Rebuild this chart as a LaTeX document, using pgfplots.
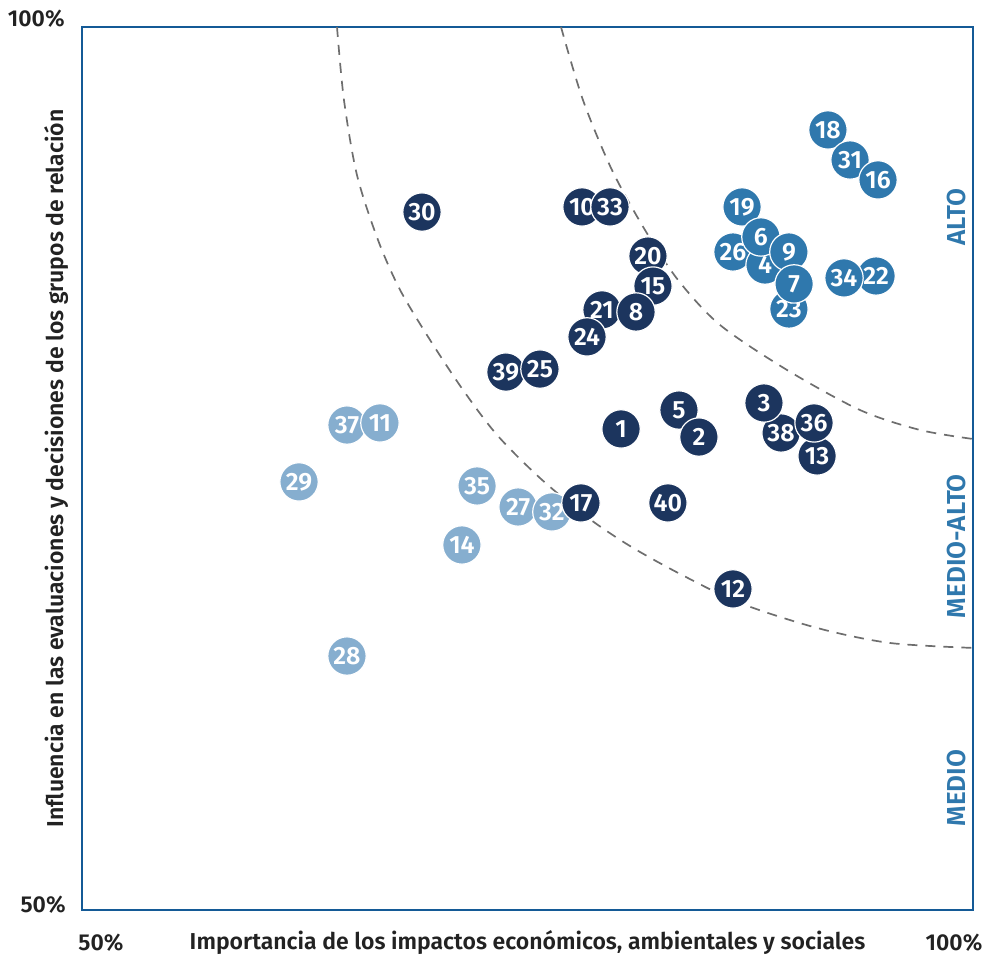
\documentclass[border=0pt]{standalone}
\usepackage{pgfplots}
\pgfplotsset{compat=1.18}
\usepackage{fontspec}
\setmainfont{Fira Sans}[BoldFont={Fira Sans SemiBold}]
\definecolor{cD}{RGB}{28,53,94}
\definecolor{cM}{RGB}{47,120,173}
\definecolor{cL}{RGB}{134,174,207}
\definecolor{frameblue}{RGB}{20,90,150}
\definecolor{txt}{RGB}{34,34,34}
\definecolor{arcgray}{RGB}{110,110,110}

\pgfplotsset{
  bub/.style={only marks, mark=*, mark size=9.6pt,
    mark options={fill=#1, draw=white, line width=0.6pt},
    point meta=explicit symbolic, nodes near coords,
    every node near coord/.append style={anchor=center, text=white, inner sep=0pt,
      font=\bfseries\fontsize{12.5}{12.5}\selectfont},
  },
  bL/.style={bub=cL}, bM/.style={bub=cM}, bD/.style={bub=cD},
}

\begin{document}
\begin{tikzpicture}
\begin{axis}[
  scale only axis,
  width=445.5pt, height=441.5pt,
  xmin=50, xmax=100, ymin=50, ymax=100,
  xtick=\empty, ytick=\empty,
  axis line style={draw=frameblue, line width=1pt},
  clip=false,
]
% dashed boundaries
\addplot[arcgray, line width=0.85pt, dash pattern=on 5pt off 4pt, smooth] coordinates {
(76.88,100) (78.11,95.87) (79.74,91.90) (81.59,88.51) (83.45,85.67) (85.80,83.13) (89.56,80.58) (93.66,78.31) (97.03,77.18) (100,76.67)
};
\addplot[arcgray, line width=0.85pt, dash pattern=on 5pt off 4pt, smooth] coordinates {
(64.31,100) (64.70,95.87) (65.43,91.62) (66.61,87.94) (67.85,85.11) (69.53,82.28) (71.38,79.45) (73.29,76.90) (75.70,74.46) (78.34,72.25) (80.75,70.61) (83.56,69.03) (86.93,67.38) (91.25,65.97) (95.34,65.12) (100,64.84)
};
% light bubbles
\addplot[bL] coordinates {(64.87,77.46)[37]};
\addplot[bL] coordinates {(66.72,77.58)[11]};
\addplot[bL] coordinates {(62.18,74.24)[29]};
\addplot[bL] coordinates {(72.17,74.01)[35]};
\addplot[bL] coordinates {(74.47,72.82)[27]};
\addplot[bL] coordinates {(76.37,72.54)[32]};
\addplot[bL] coordinates {(71.32,70.67)[14]};
\addplot[bL] coordinates {(64.87,64.38)[28]};
% mid bubbles
\addplot[bM] coordinates {(91.86,94.17)[18]};
\addplot[bM] coordinates {(93.10,92.47)[31]};
\addplot[bM] coordinates {(94.67,91.34)[16]};
\addplot[bM] coordinates {(87.04,89.81)[19]};
\addplot[bM] coordinates {(86.53,87.26)[26]};
\addplot[bM] coordinates {(88.33,86.52)[4]};
\addplot[bM] coordinates {(88.10,88.11)[6]};
\addplot[bM] coordinates {(89.67,87.26)[9]};
\addplot[bM] coordinates {(89.67,84.03)[23]};
\addplot[bM] coordinates {(89.96,85.45)[7]};
\addplot[bM] coordinates {(94.56,85.90)[22]};
\addplot[bM] coordinates {(92.76,85.79)[34]};
% dark bubbles
\addplot[bD] coordinates {(69.08,89.52)[30]};
\addplot[bD] coordinates {(78.06,89.81)[10]};
\addplot[bD] coordinates {(79.63,89.81)[33]};
\addplot[bD] coordinates {(81.76,87.03)[20]};
\addplot[bD] coordinates {(82.04,85.33)[15]};
\addplot[bD] coordinates {(79.18,83.98)[21]};
\addplot[bD] coordinates {(78.34,82.45)[24]};
\addplot[bD] coordinates {(81.09,83.86)[8]};
\addplot[bD] coordinates {(73.79,80.46)[39]};
\addplot[bD] coordinates {(75.70,80.63)[25]};
\addplot[bD] coordinates {(80.25,77.24)[1]};
\addplot[bD] coordinates {(83.50,78.31)[5]};
\addplot[bD] coordinates {(84.62,76.78)[2]};
\addplot[bD] coordinates {(89.23,77.01)[38]};
\addplot[bD] coordinates {(88.27,78.71)[3]};
\addplot[bD] coordinates {(91.25,75.71)[13]};
\addplot[bD] coordinates {(91.08,77.58)[36]};
\addplot[bD] coordinates {(78.00,73.05)[17]};
\addplot[bD] coordinates {(82.88,73.05)[40]};
\addplot[bD] coordinates {(86.53,68.18)[12]};

% zone labels
\node[rotate=90, text=cM, font=\bfseries\fontsize{13}{13}\selectfont] at (axis cs:99.1,89.24) {ALTO};
\node[rotate=90, text=cM, font=\bfseries\fontsize{13}{13}\selectfont] at (axis cs:99.1,70.61) {MEDIO-ALTO};
\node[rotate=90, text=cM, font=\bfseries\fontsize{13}{13}\selectfont] at (axis cs:99.1,56.91) {MEDIO};

% axis end labels
\node[anchor=east, text=txt, font=\bfseries\fontsize{11.5}{11.5}\selectfont, inner sep=0pt] at ([xshift=-8.5pt, yshift=4pt]rel axis cs:0,1) {100\%};
\node[anchor=east, text=txt, font=\bfseries\fontsize{11.5}{11.5}\selectfont, inner sep=0pt] at ([xshift=-8pt, yshift=2.5pt]rel axis cs:0,0) {50\%};
\node[text=txt, font=\bfseries\fontsize{11.5}{11.5}\selectfont, inner sep=0pt] at ([xshift=9.5pt, yshift=-16.5pt]rel axis cs:0,0) {50\%};
\node[text=txt, font=\bfseries\fontsize{11.5}{11.5}\selectfont, inner sep=0pt] at ([xshift=-9.5pt, yshift=-16.5pt]rel axis cs:1,0) {100\%};
\node[text=txt, font=\bfseries\fontsize{11.5}{11.5}\selectfont, inner sep=0pt] at ([yshift=-16.5pt]rel axis cs:0.5,0) {Importancia de los impactos económicos, ambientales y sociales};
\node[rotate=90, text=txt, font=\bfseries\fontsize{11.5}{11.5}\selectfont, inner sep=0pt] at ([xshift=-12.5pt]rel axis cs:0,0.5) {Influencia en las evaluaciones y decisiones de los grupos de relación};

\coordinate (bl) at (rel axis cs:0,0);
\coordinate (tr) at (rel axis cs:1,1);
\end{axis}
\pgfresetboundingbox
\path[use as bounding box] ([xshift=-41pt,yshift=-23pt]bl) rectangle ([xshift=5pt,yshift=13.5pt]tr);
\end{tikzpicture}
\end{document}
